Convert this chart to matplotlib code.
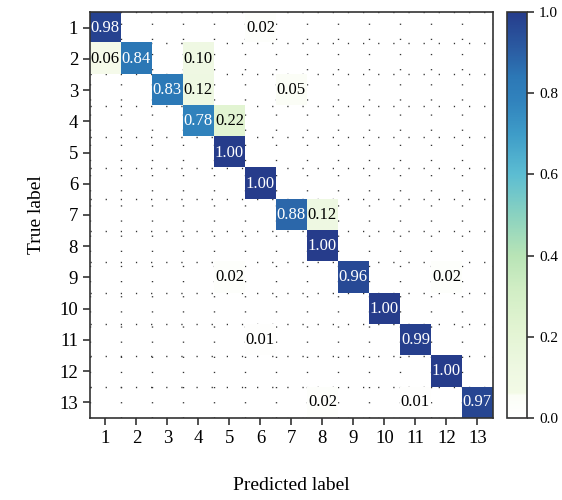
import numpy as np
import matplotlib
matplotlib.use("Agg")
import matplotlib.pyplot as plt
from matplotlib.colors import LinearSegmentedColormap

labels = [str(i) for i in range(1, 14)]
# (row, col, value) with 1-based indices
entries = [
    (1, 1, 0.98), (1, 6, 0.02),
    (2, 1, 0.06), (2, 2, 0.84), (2, 4, 0.10),
    (3, 3, 0.83), (3, 4, 0.12), (3, 7, 0.05),
    (4, 4, 0.78), (4, 5, 0.22),
    (5, 5, 1.00),
    (6, 6, 1.00),
    (7, 7, 0.88), (7, 8, 0.12),
    (8, 8, 1.00),
    (9, 5, 0.02), (9, 9, 0.96), (9, 12, 0.02),
    (10, 10, 1.00),
    (11, 6, 0.01), (11, 11, 0.99),
    (12, 12, 1.00),
    (13, 8, 0.02), (13, 11, 0.01), (13, 13, 0.97),
]
cbar_ticks = [0.0, 0.2, 0.4, 0.6, 0.8, 1.0]

n = len(labels)
cm = np.zeros((n, n))
for r, c, v in entries:
    cm[r - 1, c - 1] = v

plt.rcParams['font.family'] = ['Liberation Serif', 'DejaVu Serif']

cmap = LinearSegmentedColormap.from_list('custom_gnbu', [
    (0.00, '#ffffff'),
    (0.055, '#fbfdf6'),
    (0.06, '#f3fae6'),
    (0.12, '#eef8e2'),
    (0.22, '#e2f4d2'),
    (0.32, '#d0edc4'),
    (0.40, '#b8e4b6'),
    (0.50, '#8ad2c0'),
    (0.60, '#5cbdd2'),
    (0.70, '#3e9cc8'),
    (0.78, '#3183bd'),
    (0.84, '#2c78b6'),
    (0.90, '#2b5fa5'),
    (1.00, '#263c8b'),
], N=512)
cmap.set_bad((1, 1, 1, 0))

fig = plt.figure(figsize=(5.62, 5.0), dpi=100)
ax = fig.add_axes([0.160, 0.164, 0.717, 0.812])
cax = fig.add_axes([0.902, 0.164, 0.036, 0.812])

masked = np.ma.masked_where(cm == 0, cm)
im = ax.imshow(masked, cmap=cmap, vmin=0, vmax=1, aspect='auto', zorder=2,
               interpolation='nearest')

ax.set_xticks(np.arange(n))
ax.set_yticks(np.arange(n))
ax.set_xticklabels(labels, fontsize=13.5)
ax.set_yticklabels(labels, fontsize=13.5)
ax.set_xticks(np.arange(-0.5, n, 1), minor=True)
ax.set_yticks(np.arange(-0.5, n, 1), minor=True)
ax.tick_params(which='minor', length=0)
ax.tick_params(which='major', length=5, width=1.2, direction='out', color='#333333')
ax.grid(which='minor', color='#333333', linewidth=1.0, linestyle=(0, (0.9, 10)))
ax.grid(which='major', visible=False)
ax.set_axisbelow(True)
ax.set_xlim(-0.5, n - 0.5)
ax.set_ylim(n - 0.5, -0.5)
for s in ax.spines.values():
    s.set_linewidth(1.2)
    s.set_color('#333333')
    s.set_zorder(5)

for r, c, v in entries:
    ax.text(c - 1, r - 1, f"{v:.2f}", ha='center', va='center', fontsize=12,
            color='white' if v > 0.5 else 'black', zorder=3)

ax.set_xlabel('Predicted label', fontsize=14, labelpad=22)
ax.set_ylabel('True label', fontsize=14, labelpad=10)

cb = fig.colorbar(im, cax=cax, ticks=cbar_ticks)
cb.ax.set_yticklabels([f"{t:.1f}" for t in cbar_ticks], fontsize=11)
cb.outline.set_linewidth(1.2)
cb.outline.set_edgecolor('#333333')
cb.ax.tick_params(length=5, width=1.2, color='#333333')

fig.savefig('out.png', dpi=100)
